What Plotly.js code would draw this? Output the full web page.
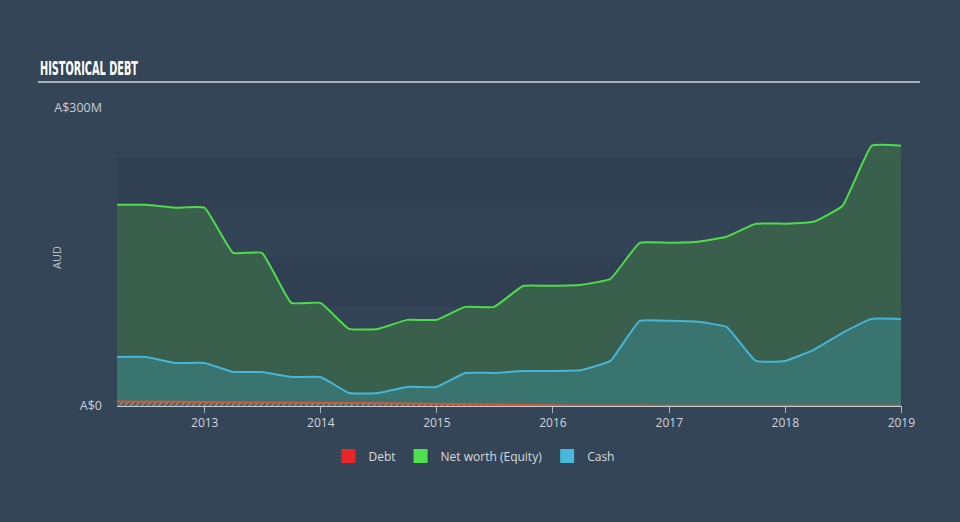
<!DOCTYPE html>
<html>
<head>
<meta charset="utf-8">
<script src="https://cdn.plot.ly/plotly-3.0.1.min.js"></script>
<style>
  html, body { margin: 0; padding: 0; background: #354558; }
  #chart { width: 960px; height: 522px; }
</style>
</head>
<body>
<div id="chart"></div>
<script>
// Quarter dates
const dates = [
  '2012-03-31','2012-06-30','2012-09-30','2012-12-31',
  '2013-03-31','2013-06-30','2013-09-30','2013-12-31',
  '2014-03-31','2014-06-30','2014-09-30','2014-12-31',
  '2015-03-31','2015-06-30','2015-09-30','2015-12-31',
  '2016-03-31','2016-06-30','2016-09-30','2016-12-31',
  '2017-03-31','2017-06-30','2017-09-30','2017-12-31',
  '2018-03-31','2018-06-30','2018-09-30','2018-12-31'
];
// Values in A$ millions
const netWorth = [
  202.6, 202.6, 199.6, 199.6,
  154.2, 154.2, 103.8, 103.8,
  77.6, 77.6, 86.7, 86.7,
  99.8, 99.8, 121.0, 121.0,
  122.0, 128.0, 164.3, 164.3,
  165.3, 170.4, 183.5, 183.5,
  185.5, 201.6, 262.1, 262.1
];
const cash = [
  49.4, 49.4, 43.3, 43.3,
  34.3, 34.3, 29.2, 29.2,
  13.1, 13.1, 19.2, 19.2,
  33.3, 33.3, 35.3, 35.3,
  36.3, 45.4, 85.7, 85.7,
  84.7, 79.6, 45.4, 45.4,
  56.5, 73.6, 87.7, 87.7
];
const debt = [
  4.5, 4.4, 4.2, 4.0,
  3.8, 3.6, 3.4, 3.2,
  3.0, 2.8, 2.5, 2.2,
  1.8, 1.4, 1.0, 0.7,
  0.5, 0.4, 0.4, 0.3,
  0.3, 0.3, 0.3, 0.3,
  0.3, 0.3, 0.3, 0.3
];
const yTickVals = [0, 300];
const yTickText = ['A$0', 'A$300M'];
const xTickVals = ['2013-01-01','2014-01-01','2015-01-01','2016-01-01','2017-01-01','2018-01-01','2019-01-01'];
const xTickText = ['2013','2014','2015','2016','2017','2018','2019'];
const bandEdges = [0, 50, 100, 150, 200, 250];

const FONT = '"Open Sans", Lato, sans-serif';
const SMOOTH = 0.35;

const traces = [
  {
    x: dates, y: netWorth, type: 'scatter', mode: 'lines', name: 'Net worth (Equity)',
    line: {color: '#4fdc4a', width: 2, shape: 'spline', smoothing: SMOOTH},
    fill: 'tozeroy', fillcolor: 'rgba(59,100,76,0.9)', showlegend: false, hoverinfo: 'skip'
  },
  {
    x: dates, y: cash, type: 'scatter', mode: 'lines', name: 'Cash',
    line: {color: '#46b5d9', width: 2, shape: 'spline', smoothing: SMOOTH},
    fill: 'tozeroy', fillcolor: 'rgba(59,118,113,0.92)', showlegend: false, hoverinfo: 'skip'
  },
  {
    x: dates, y: debt, type: 'scatter', mode: 'lines', name: 'Debt',
    line: {color: '#d9553b', width: 2, shape: 'spline', smoothing: SMOOTH},
    fill: 'tozeroy', fillcolor: 'rgba(90,100,100,0.6)',
    fillpattern: {shape: '/', fgcolor: '#8a8f8f', bgcolor: 'rgba(60,90,90,0.6)', size: 4, solidity: 0.4},
    showlegend: false, hoverinfo: 'skip'
  },
  // legend entries
  {x: [null], y: [null], type: 'scatter', mode: 'markers', name: 'Debt',
   marker: {symbol: 'square', size: 14, color: '#e8262a'}},
  {x: [null], y: [null], type: 'scatter', mode: 'markers', name: 'Net worth (Equity)',
   marker: {symbol: 'square', size: 14, color: '#4fe04f'}},
  {x: [null], y: [null], type: 'scatter', mode: 'markers', name: 'Cash',
   marker: {symbol: 'square', size: 14, color: '#45b8dc'}}
];

const shapes = [];
const bandColors = ['#303f51', '#344457'];
for (let i = 0; i < bandEdges.length - 1; i++) {
  shapes.push({
    type: 'rect', xref: 'paper', yref: 'y', layer: 'below',
    x0: 0, x1: 1, y0: bandEdges[i], y1: bandEdges[i + 1],
    fillcolor: bandColors[i % 2], line: {width: 0}
  });
}
// title underline
shapes.push({
  type: 'line', xref: 'paper', yref: 'paper',
  x0: (38 - 117) / 785, x1: (920 - 117) / 785,
  y0: 1 + (108 - 82) / 298, y1: 1 + (108 - 82) / 298,
  line: {color: '#aab0b8', width: 2}
});

const layout = {
  width: 960, height: 522,
  margin: {l: 117, r: 58, t: 108, b: 116},
  paper_bgcolor: '#354558',
  plot_bgcolor: '#354558',
  font: {family: FONT, color: '#c9ced4', size: 12},
  xaxis: {
    type: 'date',
    range: ['2012-03-31', '2019-01-03'],
    tickvals: xTickVals, ticktext: xTickText,
    ticks: 'outside', ticklen: 6, tickcolor: '#aab0b8', tickwidth: 1,
    showline: true, linecolor: '#c8ccd2', linewidth: 1,
    showgrid: false, zeroline: false,
    tickfont: {family: FONT, size: 12, color: '#d0d4d8'},
    fixedrange: true
  },
  yaxis: {
    range: [0, 300],
    tickvals: yTickVals, ticktext: yTickText,
    ticks: '', showgrid: false, zeroline: false, showline: false,
    ticklabelstandoff: 14,
    tickfont: {family: FONT, size: 12.5, color: '#c9ced4'},
    fixedrange: true
  },
  shapes: shapes,
  annotations: [
    {
      text: '<b>HISTORICAL DEBT</b>', xref: 'paper', yref: 'paper',
      x: (38 - 117) / 785, y: 1 + (108 - 68) / 298,
      xanchor: 'left', yanchor: 'middle', showarrow: false,
      font: {family: '"Liberation Sans Narrow", "DejaVu Sans Condensed", sans-serif', size: 19, color: '#ffffff'}
    },
    {
      text: 'AUD', xref: 'paper', yref: 'paper',
      x: (56 - 117) / 785, y: (406 - 258) / 298,
      xanchor: 'center', yanchor: 'middle', showarrow: false, textangle: -90,
      font: {family: FONT, size: 11, color: '#b8bec6'}
    }
  ],
  showlegend: true,
  legend: {
    orientation: 'h', x: (474 - 117) / 785, xanchor: 'center',
    y: (406 - 456) / 298, yanchor: 'middle',
    font: {family: FONT, size: 12, color: '#d6dade'},
    bgcolor: 'rgba(0,0,0,0)', itemclick: false, itemdoubleclick: false
  },
  hovermode: false
};

Plotly.newPlot('chart', traces, layout, {staticPlot: true, displayModeBar: false}).then(function (gd) {
  // condense the title text to match the narrow display face, keeping its left edge at 38px
  const t = gd.querySelector('.annotation[data-index="0"] text.annotation-text');
  if (t) {
    const bb = t.getBBox();
    t.setAttribute('text-anchor', 'start');
    t.setAttribute('x', String(bb.x));
    t.setAttribute('textLength', '98');
    t.setAttribute('lengthAdjust', 'spacingAndGlyphs');
  }
});
</script>
</body>
</html>
